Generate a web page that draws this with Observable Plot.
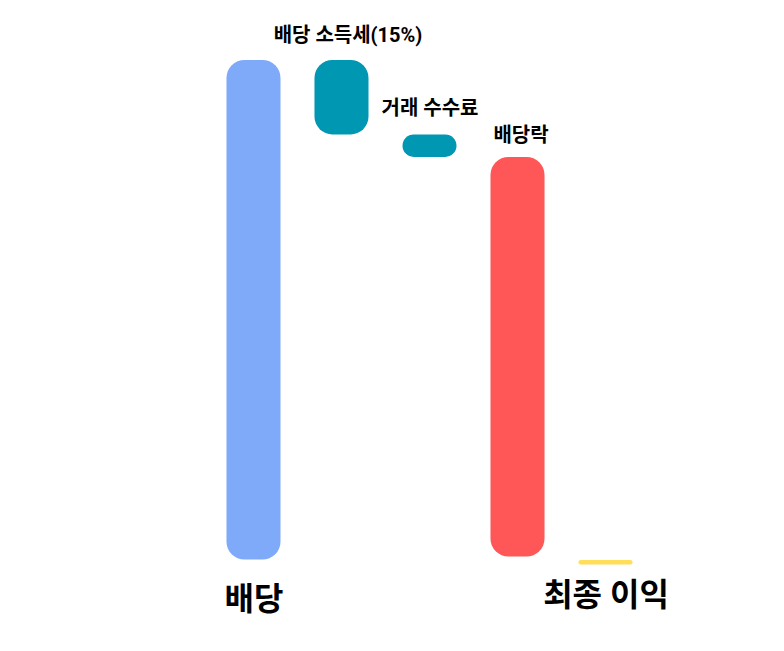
<!DOCTYPE html>
<html>
<head>
<meta charset="utf-8">
<script src="https://cdn.jsdelivr.net/npm/d3@7"></script>
<script src="https://cdn.jsdelivr.net/npm/@observablehq/plot@0.6"></script>
<style>
  html, body { margin: 0; padding: 0; background: #ffffff; }
  #chart { width: 784px; height: 651px; }
</style>
</head>
<body>
<div id="chart"></div>
<script>
// Waterfall: dividend and what is taken away from it
const categories = ["배당", "배당 소득세(15%)", "거래 수수료", "배당락", "최종 이익"];
const starts = [0, 100, 85.1, 80.6, -0.1];
const ends = [100, 85.1, 80.6, 0.6, -1.0];
const kinds = ["배당", "세금", "수수료", "배당락", "이익"];

const data = categories.map((c, i) => ({
  category: c,
  y1: starts[i],
  y2: ends[i],
  top: Math.max(starts[i], ends[i]),
  bottom: Math.min(starts[i], ends[i]),
  kind: kinds[i]
}));

const font = "Roboto, 'Noto Sans CJK KR', 'Noto Sans', sans-serif";
const topLabels = data.slice(1, 4);
const bottomLabels = [data[0], data[4]];

const chart = Plot.plot({
  width: 784,
  height: 651,
  marginTop: 60,
  marginBottom: 91.5,
  marginLeft: 192.5,
  marginRight: 117.5,
  style: { background: "#ffffff", fontFamily: font },
  x: { domain: categories, padding: 0.386, round: false, axis: null },
  y: { domain: [0, 100], axis: null },
  color: {
    domain: ["배당", "세금", "수수료", "배당락", "이익"],
    range: ["#7FAAF9", "#0097B2", "#0097B2", "#FF5757", "#FFDE59"]
  },
  marks: [
    Plot.barY(data, { x: "category", y1: "y1", y2: "y2", fill: "kind", rx: 18 }),
    Plot.text([topLabels[0]], { x: "category", y: "top", text: "category", dx: 6, dy: -24.5,
      fontSize: 20, fontWeight: "bold", fill: "#000" }),
    Plot.text([topLabels[1]], { x: "category", y: "top", text: "category", dy: -26,
      fontSize: 20, fontWeight: "bold", fill: "#000" }),
    Plot.text([topLabels[2]], { x: "category", y: "top", text: "category", dx: 3, dy: -22,
      fontSize: 20, fontWeight: "bold", fill: "#000" }),
    Plot.text([bottomLabels[0]], { x: "category", y: "bottom", text: "category", dy: 39.5,
      fontSize: 32, fontWeight: "bold", fill: "#000" }),
    Plot.text([bottomLabels[1]], { x: "category", y: "bottom", text: "category", dy: 31,
      fontSize: 32, fontWeight: "bold", fill: "#000" })
  ]
});

// keep corners round on short bars: radius never more than half the height
d3.select(chart).selectAll("rect").each(function () {
  const h = +this.getAttribute("height");
  const w = +this.getAttribute("width");
  if (h && w) {
    const r = Math.min(18, h / 2, w / 2);
    this.setAttribute("rx", r);
    this.setAttribute("ry", r);
  }
});

document.getElementById("chart").appendChild(chart);
</script>
</body>
</html>
